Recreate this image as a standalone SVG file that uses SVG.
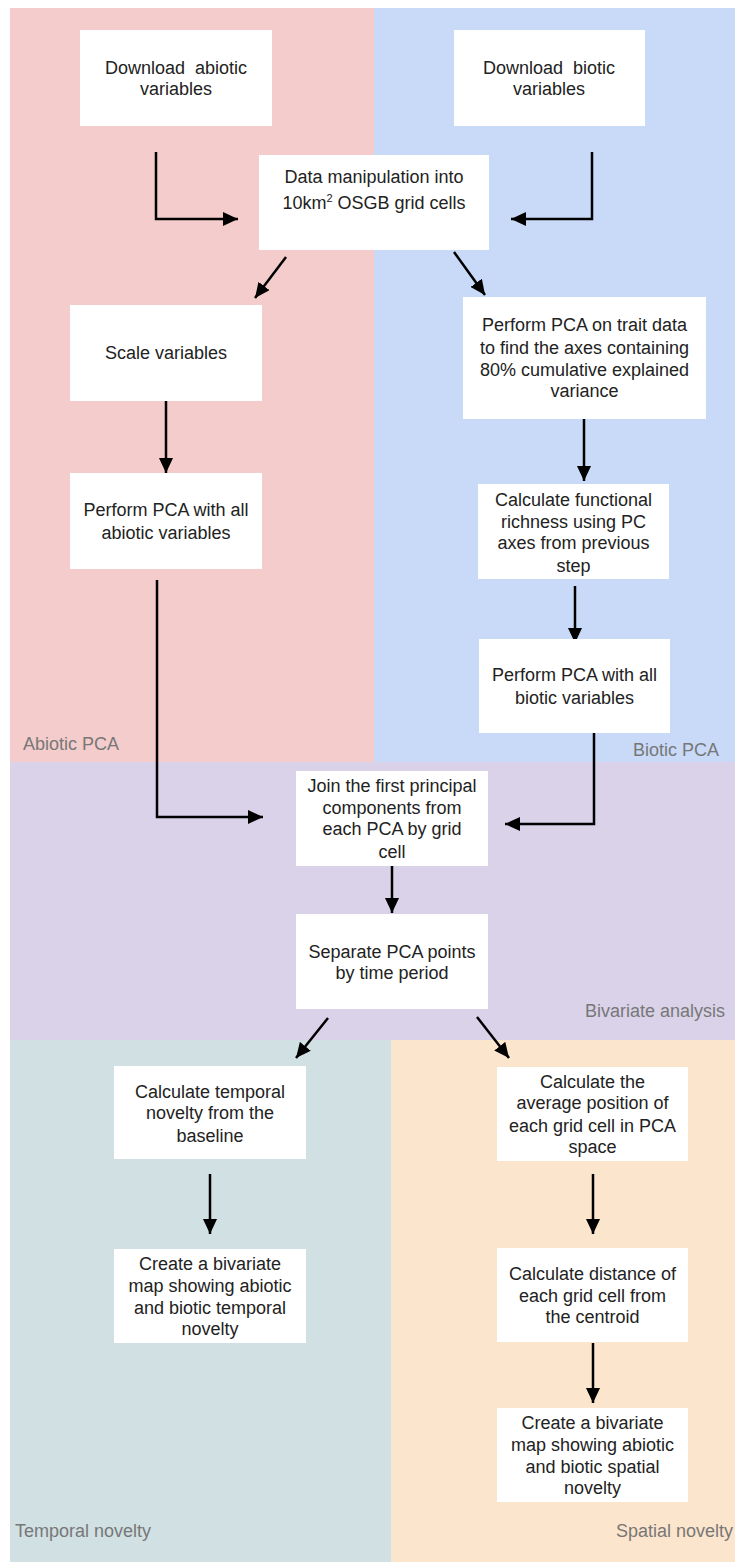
<svg xmlns="http://www.w3.org/2000/svg" width="735" height="1562" viewBox="0 0 735 1562">
<defs>
<style>
.box{fill:#ffffff;}
.t{font-family:"Liberation Sans",Arial,sans-serif;font-size:18px;fill:#222222;text-anchor:middle;}
.lbl{font-family:"Liberation Sans",Arial,sans-serif;font-size:18px;fill:#777777;}
.c{fill:none;stroke:#000000;stroke-width:2.5;marker-end:url(#ah);}
</style>
<marker id="ah" markerUnits="userSpaceOnUse" markerWidth="16" markerHeight="14" refX="15" refY="7" orient="auto">
<path d="M0,0 L15,7 L0,14 z" fill="#000000"/>
</marker>
</defs>
<rect width="735" height="1562" fill="#ffffff"/>
<g id="regions">
<rect x="10" y="8" width="364" height="754" fill="#f4cccc"/>
<rect x="374" y="8" width="361" height="754" fill="#c9daf8"/>
<rect x="10" y="762" width="725" height="278" fill="#d9d2e9"/>
<rect x="10" y="1040" width="381" height="522" fill="#d0e0e3"/>
<rect x="391" y="1040" width="344" height="522" fill="#fce5cd"/>
<text class="lbl" x="23" y="750">Abiotic PCA</text>
<text class="lbl" x="719" y="756" text-anchor="end">Biotic PCA</text>
<text class="lbl" x="725" y="1017" text-anchor="end">Bivariate analysis</text>
<text class="lbl" x="15" y="1537">Temporal novelty</text>
<text class="lbl" x="733" y="1537" text-anchor="end">Spatial novelty</text>
</g>
<g id="connectors">
<path class="c" d="M156,152 V219 H238"/>
<path class="c" d="M592,152 V219 H511"/>
<path class="c" d="M286,257 L255,298"/>
<path class="c" d="M454,252 L485,295"/>
<path class="c" d="M166,401 V473"/>
<path class="c" d="M584,419 V481"/>
<path class="c" d="M575,586 V643"/>
<path class="c" d="M157,580 V817 H263"/>
<path class="c" d="M594,733 V824 H505"/>
<path class="c" d="M392,866 V913"/>
<path class="c" d="M328,1018 L296,1058"/>
<path class="c" d="M477,1017 L509,1058"/>
<path class="c" d="M210,1174 V1234"/>
<path class="c" d="M593,1174 V1234"/>
<path class="c" d="M593,1343 V1403"/>
</g>
<g id="n1"><rect class="box" x="80" y="30" width="192" height="96"/>
<text class="t"><tspan x="176" y="74">Download&#160; abiotic</tspan><tspan x="176" y="95">variables</tspan></text></g>
<g id="n2"><rect class="box" x="454" y="30" width="191" height="96"/>
<text class="t"><tspan x="549" y="74">Download&#160; biotic</tspan><tspan x="549" y="95">variables</tspan></text></g>
<g id="n3"><rect class="box" x="259" y="155" width="230" height="95"/>
<text class="t"><tspan x="374" y="183">Data manipulation into</tspan><tspan x="374" y="209">10km</tspan><tspan dy="-7" font-size="11">2</tspan><tspan dy="7"> OSGB grid cells</tspan></text></g>
<g id="n4"><rect class="box" x="70" y="305" width="192" height="96"/>
<text class="t"><tspan x="166" y="359">Scale variables</tspan></text></g>
<g id="n5"><rect class="box" x="463" y="297" width="243" height="122"/>
<text class="t"><tspan x="584.5" y="331">Perform PCA on trait data</tspan><tspan x="584.5" y="354">to find the axes containing</tspan><tspan x="584.5" y="376">80% cumulative explained</tspan><tspan x="584.5" y="397">variance</tspan></text></g>
<g id="n6"><rect class="box" x="70" y="473" width="192" height="96"/>
<text class="t"><tspan x="166" y="516">Perform PCA with all</tspan><tspan x="166" y="539">abiotic variables</tspan></text></g>
<g id="n7"><rect class="box" x="478" y="484" width="191" height="95"/>
<text class="t"><tspan x="573.5" y="506">Calculate functional</tspan><tspan x="573.5" y="528">richness using PC</tspan><tspan x="573.5" y="549">axes from previous</tspan><tspan x="573.5" y="572">step</tspan></text></g>
<g id="n8"><rect class="box" x="479" y="639" width="191" height="94"/>
<text class="t"><tspan x="574.5" y="681">Perform PCA with all</tspan><tspan x="574.5" y="704">biotic variables</tspan></text></g>
<g id="n9"><rect class="box" x="296" y="771" width="192" height="95"/>
<text class="t"><tspan x="392" y="792">Join the first principal</tspan><tspan x="392" y="814">components from</tspan><tspan x="392" y="835">each PCA by grid</tspan><tspan x="392" y="858">cell</tspan></text></g>
<g id="n10"><rect class="box" x="296" y="914" width="192" height="95"/>
<text class="t"><tspan x="392" y="958">Separate PCA points</tspan><tspan x="392" y="979">by time period</tspan></text></g>
<g id="n11"><rect class="box" x="114" y="1066" width="192" height="93"/>
<text class="t"><tspan x="210" y="1098">Calculate temporal</tspan><tspan x="210" y="1119">novelty from the</tspan><tspan x="210" y="1142">baseline</tspan></text></g>
<g id="n12"><rect class="box" x="114" y="1249" width="192" height="94"/>
<text class="t"><tspan x="210" y="1270">Create a bivariate</tspan><tspan x="210" y="1292">map showing abiotic</tspan><tspan x="210" y="1314">and biotic temporal</tspan><tspan x="210" y="1335">novelty</tspan></text></g>
<g id="n13"><rect class="box" x="497" y="1067" width="191" height="94"/>
<text class="t"><tspan x="592.5" y="1088">Calculate the</tspan><tspan x="592.5" y="1109">average position of</tspan><tspan x="592.5" y="1132">each grid cell in PCA</tspan><tspan x="592.5" y="1153">space</tspan></text></g>
<g id="n14"><rect class="box" x="497" y="1248" width="191" height="94"/>
<text class="t"><tspan x="592.5" y="1280">Calculate distance of</tspan><tspan x="592.5" y="1302">each grid cell from</tspan><tspan x="592.5" y="1323">the centroid</tspan></text></g>
<g id="n15"><rect class="box" x="497" y="1408" width="191" height="94"/>
<text class="t"><tspan x="592.5" y="1429">Create a bivariate</tspan><tspan x="592.5" y="1451">map showing abiotic</tspan><tspan x="592.5" y="1473">and biotic spatial</tspan><tspan x="592.5" y="1494">novelty</tspan></text></g>
</svg>
